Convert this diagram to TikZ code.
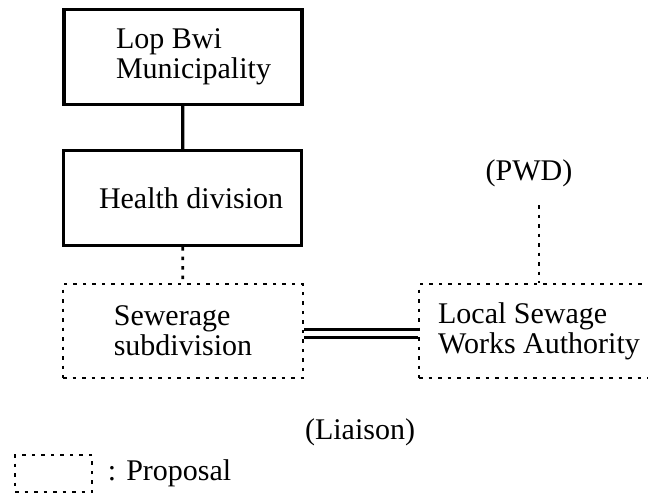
\documentclass[tikz,border=0pt]{standalone}
\usepackage{fontspec}
\setmainfont{Liberation Serif}
\usetikzlibrary{positioning}
\begin{document}
\begin{tikzpicture}[x=1pt, y=-1pt,
        orgbox/.style={draw, line width=3.2pt, minimum width=238pt, minimum height=95pt, inner sep=0pt, align=flush left, font=\fontsize{30}{30}\selectfont},
        proposal/.style={draw, line width=2.8pt, dash pattern=on 3.5pt off 6pt},
        propbox/.style={proposal, minimum width=240pt, minimum height=94pt, inner sep=0pt, align=left, font=\fontsize{30}{30}\selectfont},
        captext/.style={font=\fontsize{30}{30}\selectfont}]
        \useasboundingbox (0,0) rectangle (648,495);

        \node [orgbox, text width=134pt] (lbm) at (183,57) {Lop Bwi\\Municipality};
        \node [orgbox, text width=167pt] (hd) at (182.5,198) {\mbox{Health division}};
        \node [propbox] (sew) at (183,331) {Sewerage\\subdivision};
        \node [propbox] (lsw) at (539,331) {Local Sewage\\Works Authority};

        \node [captext] (pwd) at (529,173) {(PWD)};
        \node [captext] (liaison) at (360,432) {(Liaison)};

        % legend
        \node [proposal, minimum width=77pt, minimum height=37pt, inner sep=0pt] (key) at (53.5,473.5) {};
        \node [captext, right=11pt of key] (keytext) {: Proposal};

        \draw [line width=3.2pt] (lbm) -- (hd);
        \draw [proposal] (hd) -- (sew);
        \draw [proposal, shorten <=15pt] (lsw.north |- pwd.south) -- (lsw.north);
        \draw [line width=3pt, double, double distance=5.5pt] ([yshift=-2.5pt]sew.east) -- ([yshift=-2.5pt]lsw.west);
    \end{tikzpicture}
\end{document}
